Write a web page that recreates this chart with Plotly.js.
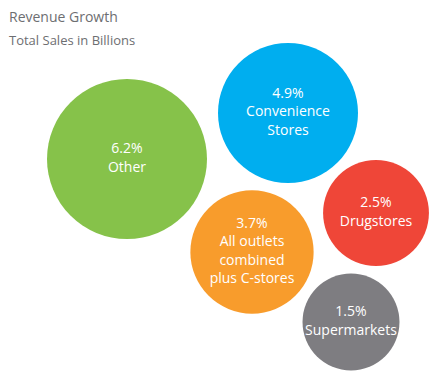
<!DOCTYPE html>
<html>
<head>
<meta charset="utf-8">
<script src="https://cdn.plot.ly/plotly-3.0.1.min.js"></script>
<style>html,body{margin:0;padding:0;background:#fff;}#chart{width:442px;height:391px;}</style>
</head>
<body>
<div id="chart"></div>
<script>
const categories = ["Other", "Convenience<br>Stores", "Drugstores", "All outlets<br>combined<br>plus C-stores", "Supermarkets"];
const growth = [6.2, 4.9, 2.5, 3.7, 1.5];
const bubbleSize = [6.4, 4.9, 2.8, 3.8, 2.35];
const posX = [127, 288, 376, 252, 351];
const posY = [159, 113, 213, 252, 322];
const colors = ["#86c24a", "#00aeef", "#ef4638", "#f89c2c", "#7e7d81"];

const labels = categories.map((c, i) => growth[i].toFixed(1) + "%<br>" + c);

const trace = {
  type: "scatter",
  mode: "markers+text",
  x: posX,
  y: posY,
  text: labels,
  textposition: "middle center",
  textfont: {family: "Open Sans, sans-serif", size: 14, color: "#ffffff", weight: 500},
  marker: {
    size: bubbleSize,
    sizemode: "area",
    sizeref: 2 * 6.4 / (160 * 160),
    color: colors,
    opacity: 1,
    line: {width: 0}
  },
  hoverinfo: "skip",
  cliponaxis: false
};

const layout = {
  width: 442,
  height: 391,
  margin: {l: 0, r: 0, t: 0, b: 0},
  paper_bgcolor: "#ffffff",
  plot_bgcolor: "#ffffff",
  showlegend: false,
  xaxis: {range: [0, 442], visible: false, fixedrange: true},
  yaxis: {range: [391, 0], visible: false, fixedrange: true},
  annotations: [
    {text: "Revenue Growth", xref: "paper", yref: "paper", x: 7/442, y: 1 - 17/391,
     xanchor: "left", yanchor: "middle", showarrow: false,
     font: {family: "Open Sans, sans-serif", size: 14, color: "#6d6e71"}},
    {text: "Total Sales in Billions", xref: "paper", yref: "paper", x: 7/442, y: 1 - 40/391,
     xanchor: "left", yanchor: "middle", showarrow: false,
     font: {family: "Open Sans, sans-serif", size: 13, color: "#6d6e71"}}
  ]
};

Plotly.newPlot("chart", [trace], layout, {displayModeBar: false, staticPlot: true});
</script>
</body>
</html>
